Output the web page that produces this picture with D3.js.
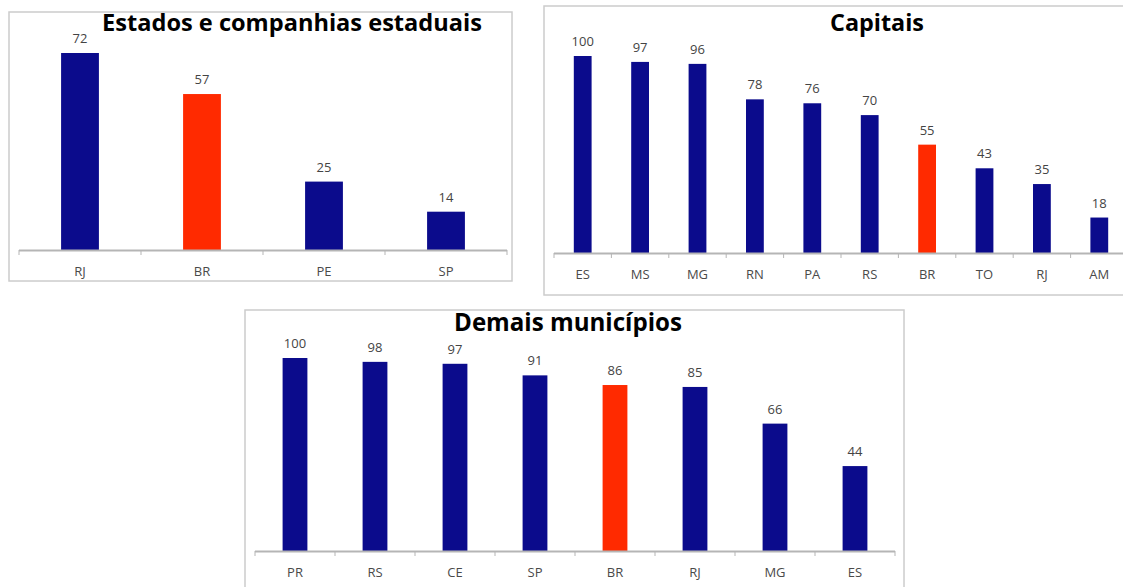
<!DOCTYPE html>
<html><head><meta charset="utf-8">
<script src="https://cdn.jsdelivr.net/npm/d3@7"></script>
<style>body{margin:0;background:#fff}svg{display:block}</style>
</head><body>
<svg id="c" width="1123" height="587"></svg>
<script>
// ---- data ----
const estadosCats = ["RJ", "BR", "PE", "SP"];
const estadosVals = [72, 57, 25, 14];
const capitaisCats = ["ES", "MS", "MG", "RN", "PA", "RS", "BR", "TO", "RJ", "AM"];
const capitaisVals = [100, 97, 96, 78, 76, 70, 55, 43, 35, 18];
const demaisCats = ["PR", "RS", "CE", "SP", "BR", "RJ", "MG", "ES"];
const demaisVals = [100, 98, 97, 91, 86, 85, 66, 44];
const titles = ["Estados e companhias estaduais", "Capitais", "Demais municípios"];
const highlight = "BR";

// ---- layout (styles) ----
const panels = [
  {cats: estadosCats, vals: estadosVals, title: titles[0],
   box: [9, 12, 503, 269], axisX: [19, 507], axisY: 250, vmax: 72, topY: 53,
   titleX: 292, titleY: 31, titleW: 380},
  {cats: capitaisCats, vals: capitaisVals, title: titles[1],
   box: [544, 6, 600, 289], axisX: [554, 1128], axisY: 253, vmax: 100, topY: 56,
   titleX: 877, titleY: 31, titleW: 94},
  {cats: demaisCats, vals: demaisVals, title: titles[2],
   box: [245, 310, 659, 290], axisX: [255, 895], axisY: 551, vmax: 100, topY: 358,
   titleX: 568, titleY: 331, titleW: 228}
];

const svg = d3.select("#c");
const BLUE = "#0b0b8c", RED = "#ff2a00";

panels.forEach(p => {
  const g = svg.append("g");
  g.append("rect").attr("x", p.box[0]).attr("y", p.box[1])
    .attr("width", p.box[2]).attr("height", p.box[3])
    .attr("fill", "#fff").attr("stroke", "#cccccc").attr("stroke-width", 1.5);

  const x = d3.scaleBand().domain(p.cats).range(p.axisX).padding(0);
  const y = d3.scaleLinear().domain([0, p.vmax]).range([p.axisY, p.topY]);
  const bw = x.bandwidth() * 0.31;

  g.selectAll("rect.bar").data(p.cats).join("rect").attr("class", "bar")
    .attr("x", d => x(d) + (x.bandwidth() - bw) / 2)
    .attr("width", bw)
    .attr("y", (d, i) => y(p.vals[i]))
    .attr("height", (d, i) => y(0) - y(p.vals[i]))
    .attr("fill", d => d === highlight ? RED : BLUE);

  // axis line + boundary ticks
  const ax = g.append("g");
  ax.append("line").attr("x1", p.axisX[0]).attr("x2", p.axisX[1])
    .attr("y1", y(0) + 0.5).attr("y2", y(0) + 0.5)
    .attr("stroke", "#b5b5b5").attr("stroke-width", 2);
  const bounds = p.cats.map(c => x(c)).concat([p.axisX[1]]);
  ax.selectAll("line.tk").data(bounds).join("line").attr("class", "tk")
    .attr("x1", d => d).attr("x2", d => d)
    .attr("y1", y(0)).attr("y2", y(0) + 5)
    .attr("stroke", "#b5b5b5").attr("stroke-width", 1);

  // category labels
  const axis = d3.axisBottom(x).tickSize(0).tickPadding(0);
  const ag = g.append("g").attr("transform", `translate(0,${y(0)})`).call(axis);
  ag.select(".domain").remove();
  ag.selectAll("text").attr("dy", null).attr("y", 26)
    .attr("font-family", "Open Sans, sans-serif").attr("font-size", 13)
    .attr("fill", "#4a4a4a");

  // value labels
  g.selectAll("text.val").data(p.cats).join("text").attr("class", "val")
    .attr("x", d => x(d) + x.bandwidth() / 2)
    .attr("y", (d, i) => y(p.vals[i]) - 10)
    .attr("text-anchor", "middle")
    .attr("font-family", "Open Sans, sans-serif").attr("font-size", 13)
    .attr("fill", "#444")
    .text((d, i) => p.vals[i]);

  // title, fitted to the reference width
  const t = g.append("text").attr("x", p.titleX).attr("y", p.titleY)
    .attr("text-anchor", "middle").attr("font-family", "Open Sans, sans-serif")
    .attr("font-weight", "bold").attr("font-size", 24).attr("fill", "#000")
    .text(p.title);
  const w = t.node().getComputedTextLength();
  if (w > 0) t.attr("font-size", 24 * p.titleW / w);
});
</script>
</body></html>
